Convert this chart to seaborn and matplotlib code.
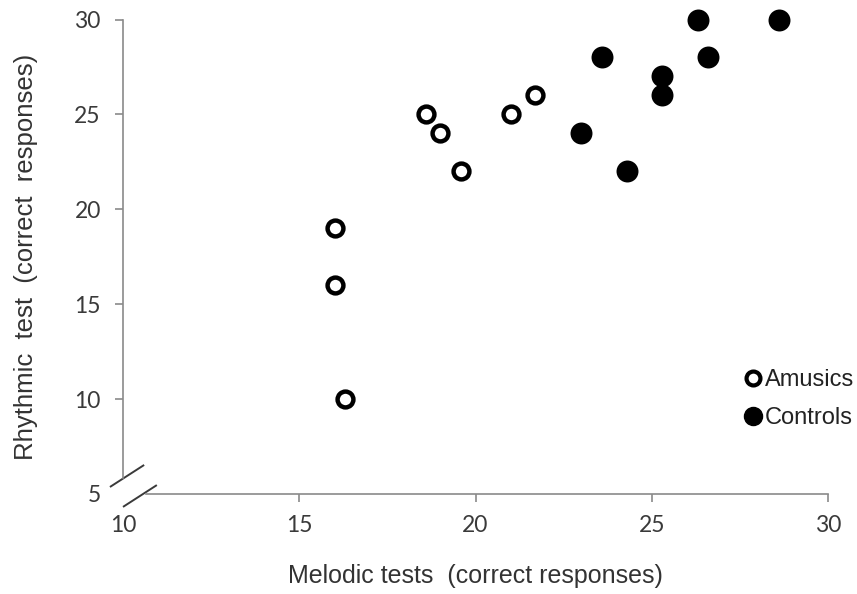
import matplotlib
matplotlib.use("Agg")
import matplotlib.pyplot as plt
import seaborn as sns
import pandas as pd
from matplotlib.lines import Line2D

# ---- data ----
amusics_melodic = [16.0, 16.0, 16.3, 18.6, 19.0, 19.6, 21.0, 21.7]
amusics_rhythmic = [19, 16, 10, 25, 24, 22, 25, 26]
controls_melodic = [23.0, 23.6, 24.3, 25.3, 25.3, 26.3, 26.6, 28.6]
controls_rhythmic = [24, 28, 22, 27, 26, 30, 28, 30]
x_ticks = [10, 15, 20, 25, 30]
y_ticks = [5, 10, 15, 20, 25, 30]
groups = ["Amusics", "Controls"]

df_a = pd.DataFrame({"melodic": amusics_melodic, "rhythmic": amusics_rhythmic})
df_c = pd.DataFrame({"melodic": controls_melodic, "rhythmic": controls_rhythmic})

sns.set_theme(style="white")
plt.rcParams["font.family"] = ["Liberation Sans", "DejaVu Sans"]

fig = plt.figure(figsize=(8.57, 5.94), dpi=100)
ax = fig.add_axes([123 / 857, 1 - 494 / 594, (828 - 123) / 857, (494 - 19.5) / 594])

sns.scatterplot(data=df_a, x="melodic", y="rhythmic", ax=ax, s=130,
                facecolor="white", edgecolor="black", linewidth=3.2,
                clip_on=False, zorder=3, legend=False)
sns.scatterplot(data=df_c, x="melodic", y="rhythmic", ax=ax, s=250,
                color="black", edgecolor="black", linewidth=0,
                clip_on=False, zorder=3, legend=False)

ax.set_xlim(10, 30)
ax.set_ylim(5, 30)
ax.set_xticks(x_ticks)
ax.set_yticks(y_ticks)
ax.set_xticklabels([str(t) for t in x_ticks])
ax.set_yticklabels([str(t) for t in y_ticks])

spine_col = "#8a8a8a"
for s in ["top", "right"]:
    ax.spines[s].set_visible(False)
for s in ["left", "bottom"]:
    ax.spines[s].set_color(spine_col)
    ax.spines[s].set_linewidth(1.2)
ax.spines["left"].set_bounds(5.85, 30)
ax.spines["bottom"].set_bounds(10.65, 30)

ax.tick_params(axis="both", direction="out", length=6, width=1.2, color=spine_col,
               labelsize=16.5, labelcolor="#3a3a3a", bottom=True, left=True)
ax.tick_params(axis="x", pad=9)
ax.tick_params(axis="y", pad=10)
for lab in ax.get_xticklabels() + ax.get_yticklabels():
    lab.set_fontfamily(["Lato", "DejaVu Sans"])
ax.xaxis.get_major_ticks()[0].tick1line.set_visible(False)
ax.yaxis.get_major_ticks()[0].tick1line.set_visible(False)

# axis break marks
brk = dict(color="#3a3a3a", lw=1.4, clip_on=False, solid_capstyle="butt")
ax.plot([9.63, 10.60], [5.37, 6.53], **brk)
ax.plot([10.0, 10.96], [4.32, 5.47], **brk)

ax.set_xlabel("Melodic tests  (correct responses)", fontsize=18, color="#333333", labelpad=20)
ax.set_ylabel("Rhythmic  test  (correct  responses)", fontsize=18.5, color="#333333", labelpad=26)

handles = [
    Line2D([], [], marker="o", linestyle="none", markersize=10, markerfacecolor="white",
           markeredgecolor="black", markeredgewidth=3),
    Line2D([], [], marker="o", linestyle="none", markersize=13, markerfacecolor="black",
           markeredgecolor="black"),
]
leg = ax.legend(handles, groups, loc="center left", bbox_to_anchor=(0.879, 0.2),
                frameon=False, handletextpad=0.05, handlelength=0.9, labelspacing=0.65,
                fontsize=17, borderpad=0, borderaxespad=0)
for t in leg.get_texts():
    t.set_color("#222222")

fig.savefig("out.png", dpi=100, facecolor="white")
